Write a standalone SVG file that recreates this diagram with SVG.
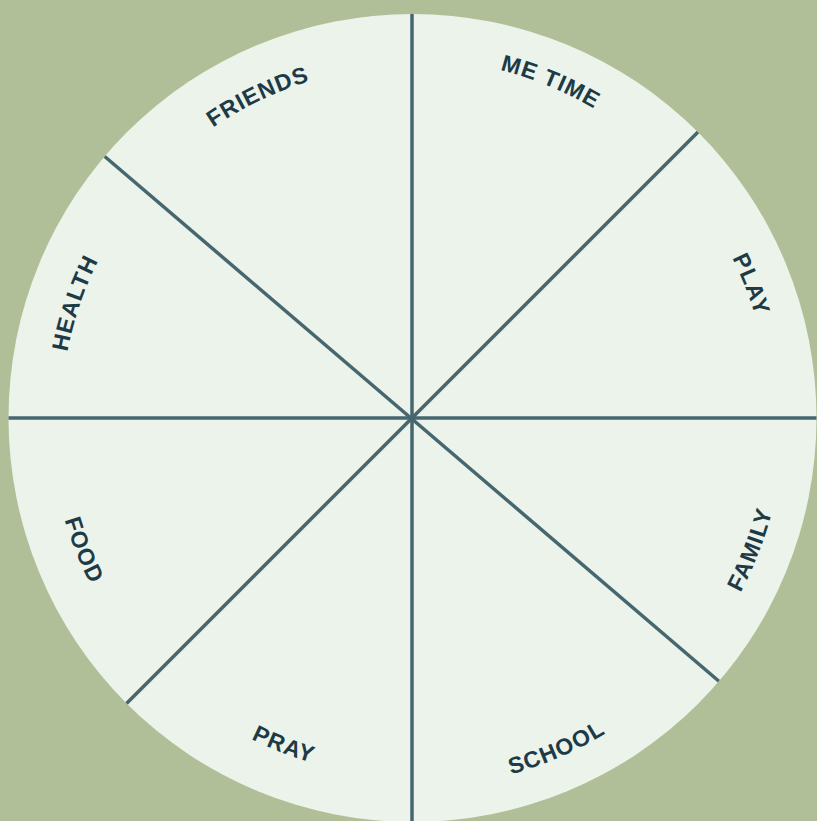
<svg xmlns="http://www.w3.org/2000/svg" xmlns:xlink="http://www.w3.org/1999/xlink" width="817" height="821" viewBox="0 0 817 821">
  <style>
    .wheel { fill: #ECF3EA; }
    .spoke { stroke: #46676F; stroke-width: 3.5; fill: none; stroke-linecap: butt; }
    .lbl { font-family: "Liberation Sans", Arial, sans-serif; font-weight: 700; font-size: 23px; letter-spacing: 1px; fill: #1D3A47; }
  </style>
  <defs>
    <clipPath id="wheelClip"><circle cx="412.5" cy="418" r="404"/></clipPath>
    <path id="pHealth" d="M84.8,544.9 A351,351 0 0 1 230.2,117.7"/>
    <path id="pFriends" d="M91.4,272.6 A352,352 0 0 1 499.5,77.1"/>
    <path id="pMeTime" d="M303.4,75.8 A359,359 0 0 1 730.1,251.7"/>
    <path id="pPlay" d="M582.8,103.4 A358,358 0 0 1 751.5,531.6"/>
    <path id="pFood" d="M67.9,305.5 A362,362 0 0 0 241.5,737.3"/>
    <path id="pFamily" d="M591.2,744 A372,372 0 0 0 764.1,298.1"/>
    <path id="pPray" d="M96.8,589.9 A359,359 0 0 0 526.5,758.3"/>
    <path id="pSchool" d="M307.5,772.9 A370,370 0 0 0 743.4,582.5"/>
  </defs>
  <rect x="0" y="0" width="817" height="821" fill="#B0BF98"/>
  <g id="wheel">
    <circle class="wheel" cx="412.5" cy="418" r="404"/>
  </g>
  <g id="connectors" clip-path="url(#wheelClip)">
    <line class="spoke" x1="412" y1="5" x2="412" y2="830"/>
    <line class="spoke" x1="0" y1="418" x2="830" y2="418"/>
    <line class="spoke" x1="700" y1="130" x2="124" y2="706"/>
    <line class="spoke" x1="103" y1="155" x2="721" y2="683"/>
  </g>
  <g id="health"><text class="lbl" text-anchor="middle"><textPath href="#pHealth" xlink:href="#pHealth" startOffset="50%">HEALTH</textPath></text></g>
  <g id="friends"><text class="lbl" text-anchor="middle"><textPath href="#pFriends" xlink:href="#pFriends" startOffset="50%">FRIENDS</textPath></text></g>
  <g id="me-time"><text class="lbl" text-anchor="middle"><textPath href="#pMeTime" xlink:href="#pMeTime" startOffset="50%">ME TIME</textPath></text></g>
  <g id="play"><text class="lbl" text-anchor="middle"><textPath href="#pPlay" xlink:href="#pPlay" startOffset="50%">PLAY</textPath></text></g>
  <g id="food"><text class="lbl" text-anchor="middle"><textPath href="#pFood" xlink:href="#pFood" startOffset="50%">FOOD</textPath></text></g>
  <g id="family"><text class="lbl" text-anchor="middle"><textPath href="#pFamily" xlink:href="#pFamily" startOffset="50%">FAMILY</textPath></text></g>
  <g id="pray"><text class="lbl" text-anchor="middle"><textPath href="#pPray" xlink:href="#pPray" startOffset="50%">PRAY</textPath></text></g>
  <g id="school"><text class="lbl" text-anchor="middle"><textPath href="#pSchool" xlink:href="#pSchool" startOffset="50%">SCHOOL</textPath></text></g>
</svg>
